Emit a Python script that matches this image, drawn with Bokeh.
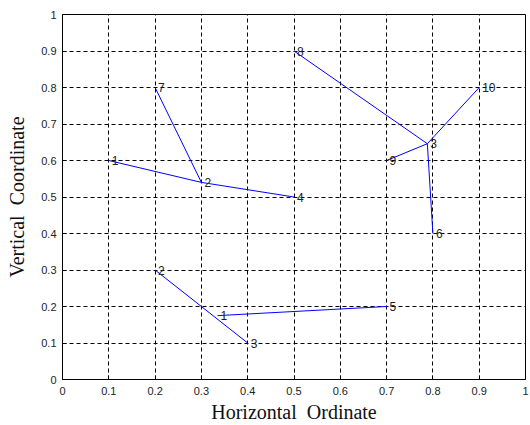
from bokeh.plotting import figure
from bokeh.models import Range1d, FixedTicker, ColumnDataSource
from bokeh.embed import file_html
from bokeh.resources import INLINE
from bokeh.core.properties import value

# ---- data ----
tick_values = [0, 0.1, 0.2, 0.3, 0.4, 0.5, 0.6, 0.7, 0.8, 0.9, 1]
tick_labels = ["0", "0.1", "0.2", "0.3", "0.4", "0.5", "0.6", "0.7", "0.8", "0.9", "1"]

# cluster A
a_labels = ["1", "2", "4", "7"]
a_x = [0.10, 0.30, 0.50, 0.20]
a_y = [0.60, 0.54, 0.50, 0.80]
a_edges = [(0, 1), (3, 1), (1, 2)]

# cluster B
b_labels = ["3", "6", "8", "9", "10"]
b_x = [0.788, 0.80, 0.50, 0.70, 0.90]
b_y = [0.646, 0.40, 0.90, 0.60, 0.80]
b_edges = [(2, 0), (4, 0), (3, 0), (0, 1)]

# cluster C
c_labels = ["1", "2", "3", "5"]
c_x = [0.335, 0.20, 0.40, 0.70]
c_y = [0.175, 0.30, 0.10, 0.20]
c_edges = [(1, 2), (0, 3)]

x_title = "Horizontal\u00a0\u00a0Ordinate"
y_title = "Vertical\u00a0\u00a0Coordinate"

# ---- figure ----
p = figure(width=530, height=425, output_backend="svg", toolbar_location=None,
           x_range=Range1d(0, 1), y_range=Range1d(0, 1),
           min_border_left=62, min_border_right=5, min_border_top=14, min_border_bottom=46)
p.background_fill_color = "white"
p.border_fill_color = "white"
p.outline_line_color = "black"
p.outline_line_width = 1

for ax in (p.xaxis[0], p.yaxis[0]):
    ax.ticker = FixedTicker(ticks=tick_values)
    ax.major_label_overrides = {v: s for v, s in zip(tick_values, tick_labels)}
    ax.major_tick_in = 4
    ax.major_tick_out = 0
    ax.minor_tick_line_color = None
    ax.axis_line_color = "black"
    ax.major_tick_line_color = "black"
    ax.major_label_text_font = "Liberation Sans"
    ax.major_label_text_font_size = "11px"
    ax.major_label_text_color = "#222222"
    ax.axis_label_text_font = "Liberation Serif"
    ax.axis_label_text_font_size = "20px"
    ax.axis_label_text_font_style = "normal"
    ax.axis_label_text_color = "#111111"

p.xaxis.axis_label = x_title
p.yaxis.axis_label = y_title
p.xaxis.major_label_standoff = 7
p.xaxis.axis_label_standoff = 3
p.yaxis.major_label_standoff = 6
p.yaxis.axis_label_standoff = 10

for g in (p.xgrid[0], p.ygrid[0]):
    g.grid_line_color = "black"
    g.grid_line_dash = "4 3"
    g.grid_line_width = 1

for labels, xs, ys, edges in ((a_labels, a_x, a_y, a_edges),
                              (b_labels, b_x, b_y, b_edges),
                              (c_labels, c_x, c_y, c_edges)):
    seg = ColumnDataSource(dict(
        x0=[xs[i] for i, j in edges], y0=[ys[i] for i, j in edges],
        x1=[xs[j] for i, j in edges], y1=[ys[j] for i, j in edges]))
    p.segment("x0", "y0", "x1", "y1", source=seg, line_color="#0000ff", line_width=1)
    lab = ColumnDataSource(dict(x=xs, y=ys, t=labels))
    p.text("x", "y", text="t", source=lab, x_offset=3,
           text_font=value("Liberation Sans"), text_font_size="12px",
           text_color="#222222", text_baseline="middle", text_align="left")

open("out.html", "w").write(file_html(p, INLINE))
